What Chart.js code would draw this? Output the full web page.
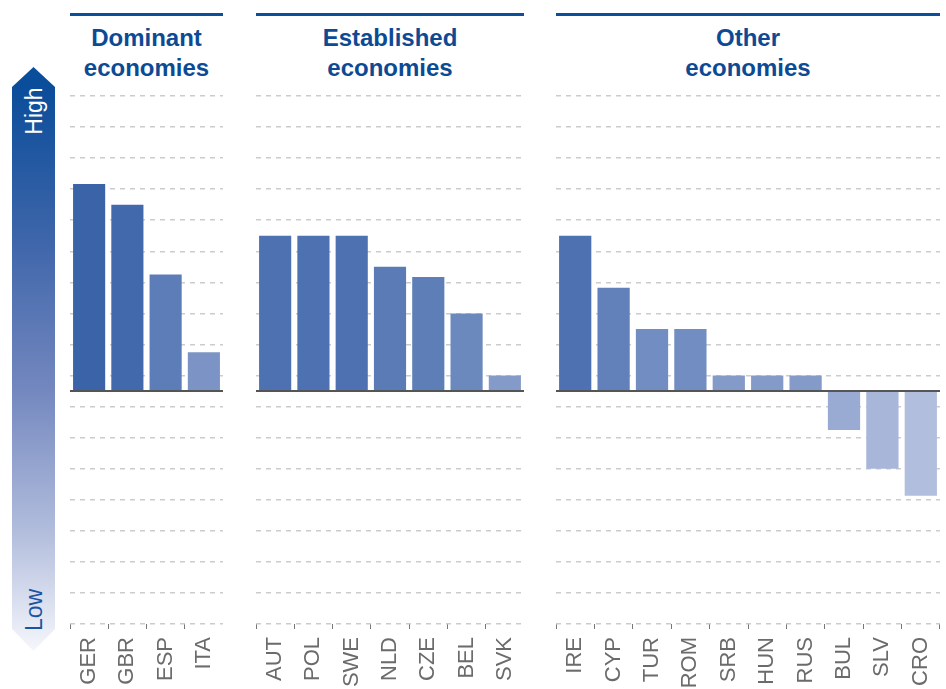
<!DOCTYPE html>
<html>
<head>
<meta charset="utf-8">
<script src="https://cdn.jsdelivr.net/npm/chart.js@4"></script>
<style>
  html, body { margin: 0; padding: 0; background: #fff; }
  body { width: 946px; height: 689px; position: relative; overflow: hidden; font-family: "Liberation Sans", Arial, sans-serif; }
  .panel { position: absolute; top: 90px; height: 599px; }
  .head { position: absolute; top: 13px; border-top: 3px solid #0b4e9a; text-align: center;
          color: #0d4a94; font-weight: bold; font-size: 24px; line-height: 30px; padding-top: 7px; }
  .arrow { position: absolute; left: 12px; top: 67px; width: 43px; height: 584px;
           clip-path: polygon(50% 0, 100% 20px, 100% 562px, 50% 100%, 0 562px, 0 20px);
           background: linear-gradient(to bottom, #0a4d9a 20px, #3f66aa 30%, #7387bf 55%, #b3bedd 80%, #f6f7fc 100%); }
  .arrow span { position: absolute; left: 50%; font-size: 23px; font-weight: 300; white-space: nowrap;
                transform: translate(-50%, -50%) rotate(-90deg); }
</style>
</head>
<body>

<div class="arrow">
  <span style="top: 44px; color: #fff;">High</span>
  <span style="top: 543px; color: #1a55a0;">Low</span>
</div>

<div class="head" style="left:70px; width:153px;">Dominant<br>economies</div>
<div class="head" style="left:256px; width:268px;">Established<br>economies</div>
<div class="head" style="left:556px; width:384px;">Other<br>economies</div>

<div class="panel" style="left:70px; width:153px;"><canvas id="chartDominant"></canvas></div>
<div class="panel" style="left:256px; width:268px;"><canvas id="chartEstablished"></canvas></div>
<div class="panel" style="left:556px; width:384px;"><canvas id="chartOther"></canvas></div>

<script>
// Dados (escala relativa, 0 = linha base)
const dominantLabels = ['GER', 'GBR', 'ESP', 'ITA'];
const dominantValues = [6.67, 6, 3.75, 1.25];

const establishedLabels = ['AUT', 'POL', 'SWE', 'NLD', 'CZE', 'BEL', 'SVK'];
const establishedValues = [5, 5, 5, 4, 3.67, 2.5, 0.5];

const otherLabels = ['IRE', 'CYP', 'TUR', 'ROM', 'SRB', 'HUN', 'RUS', 'BUL', 'SLV', 'CRO'];
const otherValues = [5, 3.33, 2, 2, 0.5, 0.5, 0.5, -1.25, -2.5, -3.37];

const Y_MIN = -7.5;
const Y_MAX = 9.5;

// cor da barra vai do azul escuro (alto) ao azul claro (baixo)
const dark = [54, 96, 166];
const light = [180, 191, 223];
function barColor(ctx) {
    const v = ctx.raw;
    let t = (7 - v) / 10.5;
    t = Math.max(0, Math.min(1, t));
    const c = dark.map((d, i) => Math.round(d + (light[i] - d) * t));
    return `rgb(${c[0]}, ${c[1]}, ${c[2]})`;
}

// linha do zero
const zeroLine = {
    id: 'zeroLine',
    afterDatasetsDraw(chart) {
        const { ctx, chartArea, scales } = chart;
        const y = scales.y.getPixelForValue(0);
        ctx.save();
        ctx.strokeStyle = '#555555';
        ctx.lineWidth = 2;
        ctx.beginPath();
        ctx.moveTo(chartArea.left, y);
        ctx.lineTo(chartArea.right, y);
        ctx.stroke();
        ctx.restore();
    }
};

function makeChart(id, labels, values) {
    new Chart(document.getElementById(id).getContext('2d'), {
        type: 'bar',
        data: {
            labels: labels,
            datasets: [{
                data: values,
                backgroundColor: barColor,
                barPercentage: 0.84,
                categoryPercentage: 1,
            }]
        },
        options: {
            responsive: true,
            maintainAspectRatio: false,
            animation: false,
            events: [],
            layout: { padding: { top: 6, left: 0, right: 0, bottom: 0 } },
            plugins: {
                legend: { display: false },
                tooltip: { enabled: false }
            },
            scales: {
                x: {
                    border: { display: false },
                    grid: {
                        offset: true,
                        drawOnChartArea: false,
                        drawTicks: true,
                        tickLength: 5,
                        color: '#777777',
                        lineWidth: 1
                    },
                    ticks: {
                        minRotation: 90,
                        maxRotation: 90,
                        padding: 8,
                        color: '#6b6b6b',
                        font: { family: 'Liberation Sans', size: 22 }
                    },
                    afterFit: (scale) => {
                        scale.height = 65;
                        scale.paddingLeft = 0;
                        scale.paddingRight = 0;
                    }
                },
                y: {
                    min: Y_MIN,
                    max: Y_MAX,
                    border: { display: false, dash: [5, 5] },
                    grid: {
                        color: '#cccccc',
                        lineWidth: 1.5,
                        drawTicks: false
                    },
                    ticks: { display: false },
                    afterBuildTicks: (scale) => {
                        const t = [];
                        for (let v = Y_MIN; v <= Y_MAX; v += 1) t.push({ value: v });
                        scale.ticks = t;
                    },
                    afterFit: (scale) => { scale.width = 0; }
                }
            }
        },
        plugins: [zeroLine]
    });
}

makeChart('chartDominant', dominantLabels, dominantValues);
makeChart('chartEstablished', establishedLabels, establishedValues);
makeChart('chartOther', otherLabels, otherValues);
</script>
</body>
</html>
